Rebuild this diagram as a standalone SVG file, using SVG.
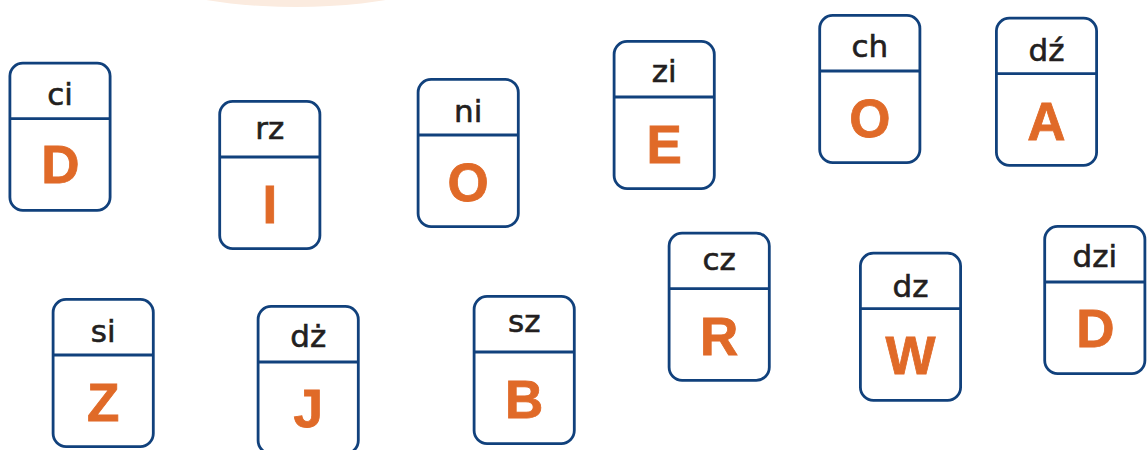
<svg xmlns="http://www.w3.org/2000/svg" width="1147" height="450" viewBox="0 0 1147 450">
<style>
.card{fill:#ffffff;stroke:#11417c;stroke-width:2.8}
.div{stroke:#11417c;stroke-width:2.8}
.lbl{font-family:"DejaVu Sans","Liberation Sans",sans-serif;font-size:31px;fill:#231f20;stroke:#231f20;stroke-width:0.6;text-anchor:middle}
.ltr{font-family:"Liberation Sans",Arial,sans-serif;font-weight:bold;font-size:53px;fill:#e06a28;stroke:#e06a28;stroke-width:0.8;text-anchor:middle}
</style>
<rect width="1147" height="450" fill="#ffffff"/>
<ellipse cx="296" cy="-40" rx="171" ry="47" fill="#fbebdf"/>
<g id="connectors"/>
<g id="card-ci" transform="translate(8.5,61.7)"><rect class="card" x="1.4" y="1.4" width="100.2" height="147.2" rx="13"/><line class="div" x1="1.4" y1="57" x2="101.6" y2="57"/><text class="lbl" x="51.5" y="43">ci</text><text class="ltr" x="52" y="121.5">D</text></g>
<g id="card-rz" transform="translate(218.3,100)"><rect class="card" x="1.4" y="1.4" width="100.2" height="147.2" rx="13"/><line class="div" x1="1.4" y1="57" x2="101.6" y2="57"/><text class="lbl" x="51.5" y="38.5">rz</text><text class="ltr" x="51.5" y="122.5">I</text></g>
<g id="card-ni" transform="translate(416.7,78)"><rect class="card" x="1.4" y="1.4" width="100.2" height="147.2" rx="13"/><line class="div" x1="1.4" y1="57" x2="101.6" y2="57"/><text class="lbl" x="51.5" y="43.5">ni</text><text class="ltr" x="51.5" y="122.5">O</text></g>
<g id="card-zi" transform="translate(612.7,40)"><rect class="card" x="1.4" y="1.4" width="100.2" height="147.2" rx="13"/><line class="div" x1="1.4" y1="57" x2="101.6" y2="57"/><text class="lbl" x="51.5" y="42">zi</text><text class="ltr" x="51.5" y="123">E</text></g>
<g id="card-ch" transform="translate(818.3,14)"><rect class="card" x="1.4" y="1.4" width="100.2" height="147.2" rx="13"/><line class="div" x1="1.4" y1="57" x2="101.6" y2="57"/><text class="lbl" x="51.5" y="43">ch</text><text class="ltr" x="51.5" y="123">O</text></g>
<g id="card-dzacute" transform="translate(995,16.7)"><rect class="card" x="1.4" y="1.4" width="100.2" height="147.2" rx="13"/><line class="div" x1="1.4" y1="57" x2="101.6" y2="57"/><text class="lbl" x="51.5" y="44.5">dź</text><text class="ltr" x="51.5" y="123">A</text></g>
<g id="card-si" transform="translate(51.7,298)"><rect class="card" x="1.4" y="1.4" width="100.2" height="147.2" rx="13"/><line class="div" x1="1.4" y1="57" x2="101.6" y2="57"/><text class="lbl" x="51.5" y="43.5">si</text><text class="ltr" x="51.5" y="123">Z</text></g>
<g id="card-dzdot" transform="translate(256.7,305)"><rect class="card" x="1.4" y="1.4" width="100.2" height="147.2" rx="13"/><line class="div" x1="1.4" y1="57" x2="101.6" y2="57"/><text class="lbl" x="51.5" y="42">dż</text><text class="ltr" x="51.5" y="122">J</text></g>
<g id="card-sz" transform="translate(472.7,295)"><rect class="card" x="1.4" y="1.4" width="100.2" height="147.2" rx="13"/><line class="div" x1="1.4" y1="57" x2="101.6" y2="57"/><text class="lbl" x="51.5" y="37">sz</text><text class="ltr" x="51.5" y="123">B</text></g>
<g id="card-cz" transform="translate(667.7,231.7)"><rect class="card" x="1.4" y="1.4" width="100.2" height="147.2" rx="13"/><line class="div" x1="1.4" y1="57" x2="101.6" y2="57"/><text class="lbl" x="51.5" y="38">cz</text><text class="ltr" x="51.5" y="123">R</text></g>
<g id="card-dz" transform="translate(859,251.7)"><rect class="card" x="1.4" y="1.4" width="100.2" height="147.2" rx="13"/><line class="div" x1="1.4" y1="57" x2="101.6" y2="57"/><text class="lbl" x="51.5" y="45">dz</text><text class="ltr" x="51.5" y="122.5">W</text></g>
<g id="card-dzi" transform="translate(1043.3,225)"><rect class="card" x="1.4" y="1.4" width="100.2" height="147.2" rx="13"/><line class="div" x1="1.4" y1="57" x2="101.6" y2="57"/><text class="lbl" x="51.5" y="42">dzi</text><text class="ltr" x="52" y="122">D</text></g>
</svg>
